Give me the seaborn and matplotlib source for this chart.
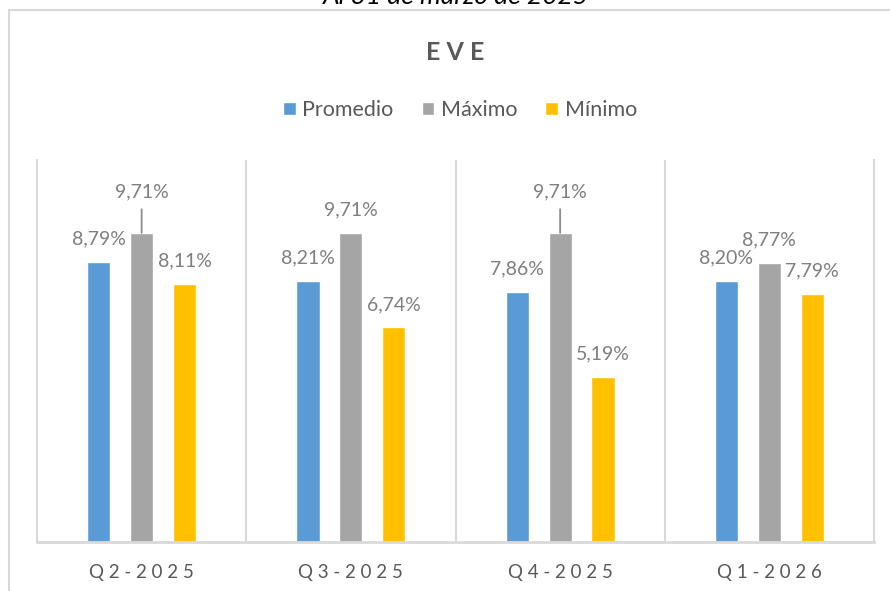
import pandas as pd
import seaborn as sns
import matplotlib.pyplot as plt
from matplotlib.lines import Line2D

sns.set_theme(style="white")
plt.rcParams["font.family"] = ["Lato", "DejaVu Sans"]

# datos
trimestres = ["Q2-2025", "Q3-2025", "Q4-2025", "Q1-2026"]
series = ["Promedio", "Máximo", "Mínimo"]
promedio = [8.79, 8.21, 7.86, 8.20]
maximo = [9.71, 9.71, 9.71, 8.77]
minimo = [8.11, 6.74, 5.19, 7.79]

colores = ["#5B9BD5", "#A5A5A5", "#FFC000"]
gris_texto = "#7f7f7f"
gris_linea = "#d9d9d9"

data = pd.DataFrame({
    "trimestre": trimestres * 3,
    "serie": [s for s in series for _ in trimestres],
    "valor": promedio + maximo + minimo,
})

fig = plt.figure(figsize=(8.9, 5.91), dpi=100)
fig.patch.set_facecolor("white")
W, H = 890, 591
ax = fig.add_axes([37 / W, (H - 542) / H, (874 - 37) / W, (542 - 160) / H])

sns.barplot(data=data, x="trimestre", y="valor", hue="serie",
            palette=colores, width=0.615, gap=0.46, ax=ax,
            saturation=1, legend=True)

ax.set_ylim(0, 12)
ax.set_xlim(-0.5, 3.5)
ax.set_xlabel("")
ax.set_ylabel("")
ax.set_yticks([])

# separadores entre trimestres
ax.set_xticks([0.5, 1.5, 2.5], minor=True)
ax.grid(True, which="minor", axis="x", color=gris_linea, lw=1.5)
ax.tick_params(axis="x", which="both", length=0, pad=16,
               labelsize=13.5, labelcolor="#595959")
ax.set_xticks(range(len(trimestres)))
ax.set_xticklabels([" ".join(t) for t in trimestres])

for side in ["left", "right"]:
    ax.spines[side].set_color(gris_linea)
    ax.spines[side].set_linewidth(1.5)
ax.spines["bottom"].set_color(gris_linea)
ax.spines["bottom"].set_linewidth(2)
ax.spines["top"].set_visible(False)

# etiquetas de datos; el Máximo de Q2 y Q4 va con línea guía
con_guia = {("Máximo", 0), ("Máximo", 2)}
valores = {"Promedio": promedio, "Máximo": maximo, "Mínimo": minimo}
for serie, cont in zip(series, ax.containers):
    for i, bar in enumerate(cont):
        v = valores[serie][i]
        xc = bar.get_x() + bar.get_width() / 2
        txt = f"{v:.2f}%".replace(".", ",")
        if (serie, i) in con_guia:
            ax.annotate(txt, xy=(xc, v), xytext=(0, 41), textcoords="offset pixels",
                        ha="center", va="center", fontsize=14, color=gris_texto,
                        arrowprops=dict(arrowstyle="-", color="#8c8c8c", lw=1.3,
                                        shrinkA=4, shrinkB=0))
        else:
            ax.annotate(txt, xy=(xc, v), xytext=(0, 23), textcoords="offset pixels",
                        ha="center", va="center", fontsize=14, color=gris_texto)

handles, labels = ax.get_legend_handles_labels()
ax.get_legend().remove()
fig.legend(handles, labels, loc="center", bbox_to_anchor=(460 / W, 1 - 110 / H),
           ncol=3, frameon=False, fontsize=15.5, handlelength=0.6, handleheight=0.6,
           handletextpad=0.3, columnspacing=1.3, labelcolor="#595959")

fig.text(455 / W, 1 - 52 / H, "E V E", ha="center", va="center",
         fontsize=18, fontweight="bold", color="#595959")

# texto superior cortado
fig.text(456 / W, 1 - 4 / H, "Al 31 de marzo de 2025", ha="center", va="baseline",
         fontsize=19, style="italic", color="black")

# marco exterior
fig.add_artist(Line2D([9 / W, 9 / W], [0, 1 - 10 / H], transform=fig.transFigure,
                      color=gris_linea, lw=1.5))
fig.add_artist(Line2D([9 / W, 1], [1 - 10 / H, 1 - 10 / H], transform=fig.transFigure,
                      color=gris_linea, lw=1.5))

fig.savefig("out.png", dpi=100)
